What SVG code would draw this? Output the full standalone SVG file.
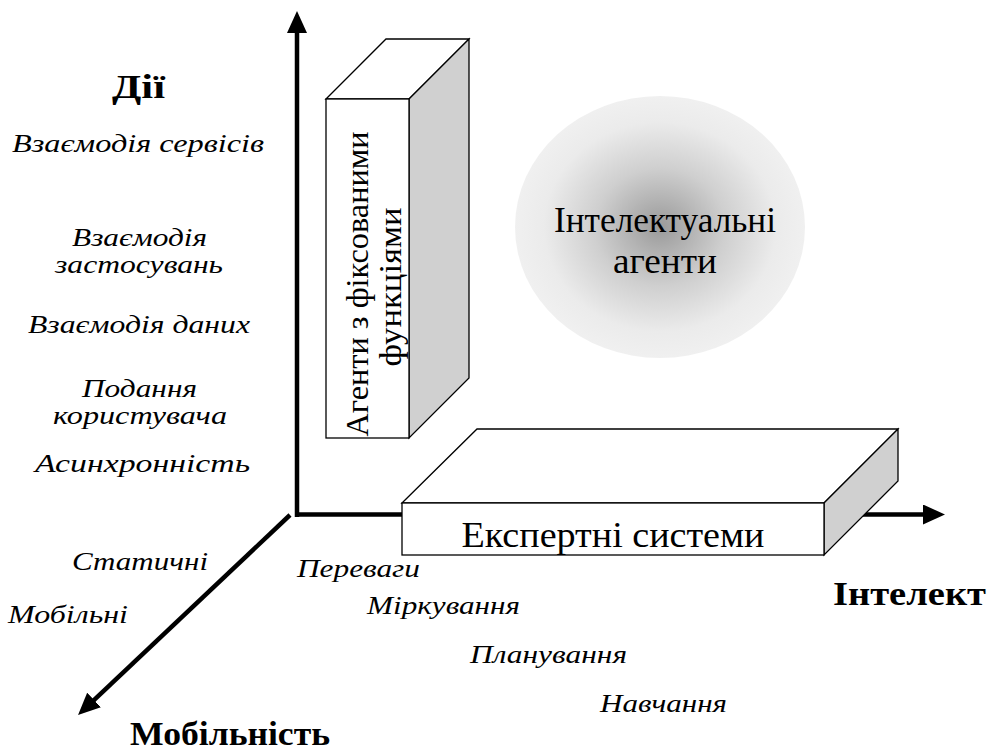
<svg xmlns="http://www.w3.org/2000/svg" width="987" height="751" viewBox="0 0 987 751" font-family="Liberation Serif, DejaVu Serif, Noto Serif, FreeSerif, Nimbus Roman, Times, serif">
  <style>
    .ax { stroke: #000; stroke-width: 4.5; fill: none; }
    .face { stroke: #000; stroke-width: 1.3; fill: #fff; stroke-linejoin: miter; }
    .side { stroke: #000; stroke-width: 1.3; fill: #d0d0d0; }
    text { fill: #000; }
    .lbl { font-style: italic; font-size: 25px; }
    .mid { text-anchor: middle; }
    .axis-title { font-weight: bold; font-size: 34px; }
    .box-text { font-size: 35px; text-anchor: middle; }
  </style>
  <defs>
    <marker id="arrow" viewBox="0 0 22 20" refX="2" refY="10" markerWidth="22" markerHeight="20" markerUnits="userSpaceOnUse" orient="auto">
      <path d="M0,0 L22,10 L0,20 z" fill="#000"/>
    </marker>
    <radialGradient id="glow" cx="0.5" cy="0.5" r="0.5">
      <stop offset="0" stop-color="#9a9a9a"/>
      <stop offset="0.45" stop-color="#cfcfcf"/>
      <stop offset="0.8" stop-color="#ebebeb"/>
      <stop offset="1" stop-color="#f0f0f0"/>
    </radialGradient>
  </defs>
  <rect width="987" height="751" fill="#fff"/>

  <!-- axes -->
  <g id="connectors">
    <line class="ax" x1="295" y1="514.5" x2="925" y2="514.5" marker-end="url(#arrow)"/>
    <line class="ax" x1="297" y1="517" x2="297" y2="31" marker-end="url(#arrow)"/>
    <line class="ax" x1="290" y1="515" x2="92.6" y2="701.3" marker-end="url(#arrow)"/>
  </g>

  <!-- intelligent agents cloud -->
  <g id="intelligent-agents">
    <ellipse cx="660" cy="227" rx="145" ry="131" fill="url(#glow)"/>
    <text class="box-text" x="665" y="232" textLength="222" lengthAdjust="spacingAndGlyphs">Інтелектуальні</text>
    <text class="box-text" x="665" y="273" textLength="104" lengthAdjust="spacingAndGlyphs">агенти</text>
  </g>

  <!-- fixed-function agents column -->
  <g id="fixed-agents">
    <polygon class="face" points="326,99 386,39 469,39 409,99"/>
    <polygon class="side" points="409,99 469,39 469,378 409,438"/>
    <rect class="face" x="326" y="99" width="83" height="339"/>
    <text class="box-text" style="font-size:31px" transform="translate(368,284) rotate(-90)" textLength="305" lengthAdjust="spacingAndGlyphs">Агенти з фіксованими</text>
    <text class="box-text" style="font-size:31px" transform="translate(401,287) rotate(-90)" textLength="159" lengthAdjust="spacingAndGlyphs">функціями</text>
  </g>

  <!-- expert systems slab -->
  <g id="expert-systems">
    <polygon class="face" points="402,503 477,429 898,429 824,503"/>
    <polygon class="side" points="824,503 898,429 898,481 824,555"/>
    <rect class="face" x="402" y="503" width="422" height="52"/>
    <text class="box-text" x="613" y="547" textLength="303" lengthAdjust="spacingAndGlyphs">Експертні системи</text>
  </g>

  <!-- axis titles -->
  <g id="axis-actions">
    <text class="axis-title" x="112" y="98" textLength="53" lengthAdjust="spacingAndGlyphs">Дії</text>
  </g>
  <g id="axis-intellect">
    <text class="axis-title" x="833" y="605" textLength="153" lengthAdjust="spacingAndGlyphs">Інтелект</text>
  </g>
  <g id="axis-mobility">
    <text class="axis-title" x="130" y="745" textLength="200" lengthAdjust="spacingAndGlyphs">Мобільність</text>
  </g>

  <!-- action levels -->
  <g id="actions-levels">
    <text class="lbl mid" x="138" y="152" textLength="252" lengthAdjust="spacingAndGlyphs">Взаємодія сервісів</text>
    <text class="lbl mid" x="139.5" y="246" textLength="135" lengthAdjust="spacingAndGlyphs">Взаємодія</text>
    <text class="lbl mid" x="139" y="273" textLength="168" lengthAdjust="spacingAndGlyphs">застосувань</text>
    <text class="lbl mid" x="139" y="333" textLength="222" lengthAdjust="spacingAndGlyphs">Взаємодія даних</text>
    <text class="lbl mid" x="139.5" y="397" textLength="115" lengthAdjust="spacingAndGlyphs">Подання</text>
    <text class="lbl mid" x="140" y="424" textLength="174" lengthAdjust="spacingAndGlyphs">користувача</text>
    <text class="lbl mid" x="142.5" y="472" textLength="215" lengthAdjust="spacingAndGlyphs">Асинхронність</text>
  </g>

  <!-- mobility levels -->
  <g id="mobility-levels">
    <text class="lbl" x="72" y="570" textLength="136" lengthAdjust="spacingAndGlyphs">Статичні</text>
    <text class="lbl" x="8" y="623" textLength="120" lengthAdjust="spacingAndGlyphs">Мобільні</text>
  </g>

  <!-- intellect levels -->
  <g id="intellect-levels">
    <text class="lbl" x="297" y="577" textLength="123" lengthAdjust="spacingAndGlyphs">Переваги</text>
    <text class="lbl" x="367" y="614" textLength="153" lengthAdjust="spacingAndGlyphs">Міркування</text>
    <text class="lbl" x="470" y="663" textLength="157" lengthAdjust="spacingAndGlyphs">Планування</text>
    <text class="lbl" x="600" y="712" textLength="127" lengthAdjust="spacingAndGlyphs">Навчання</text>
  </g>
</svg>
